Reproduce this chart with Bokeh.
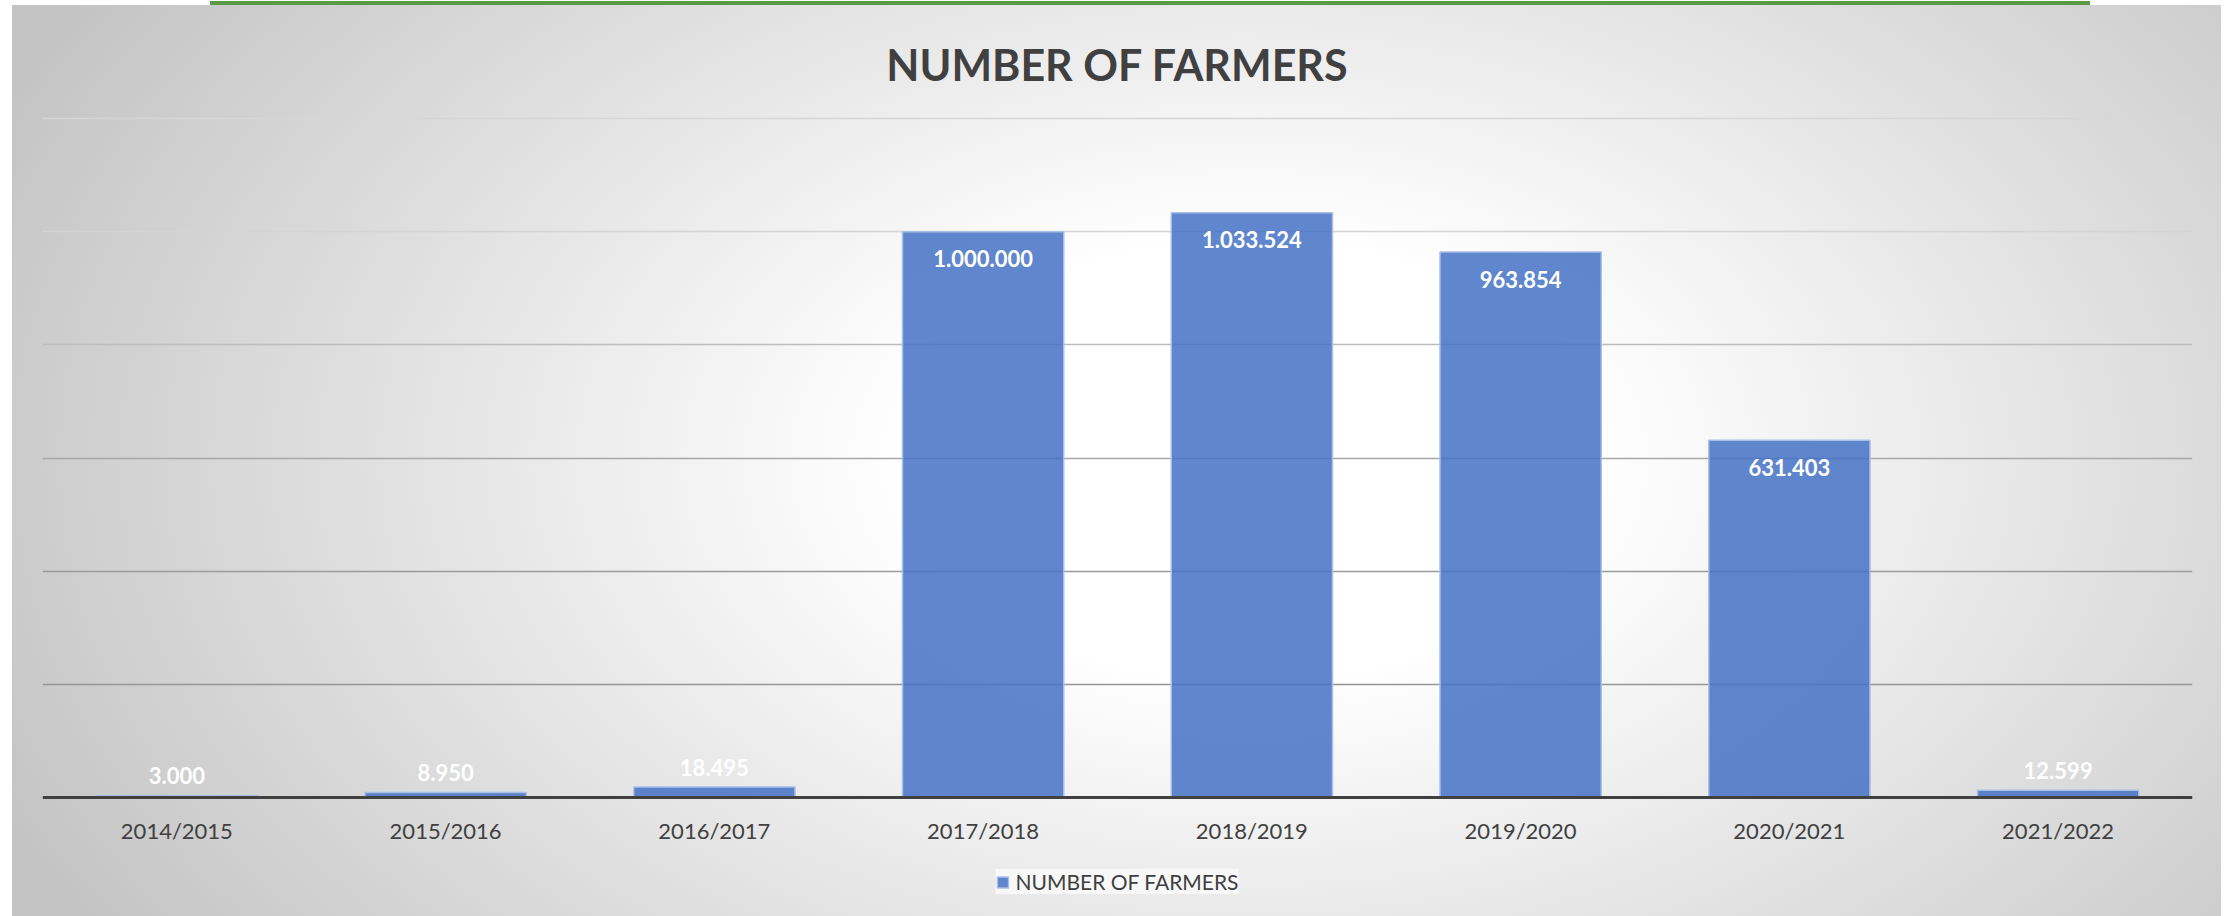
from bokeh.plotting import figure
from bokeh.models import ColumnDataSource, FactorRange, Range1d, Grid, FixedTicker, Legend, LegendItem
from bokeh.core.properties import value
from bokeh.embed import file_html
from bokeh.resources import INLINE

# ---- data ----
seasons = ["2014/2015", "2015/2016", "2016/2017", "2017/2018",
           "2018/2019", "2019/2020", "2020/2021", "2021/2022"]
farmers = [3000, 8950, 18495, 1000000, 1033524, 963854, 631403, 12599]
grid_values = [200000, 400000, 600000, 800000, 1000000, 1200000]
series_name = "NUMBER OF FARMERS"
chart_title = "NUMBER OF FARMERS"

# ---- styles ----
FONT = "Lato"
grid_colors = ["#969696", "#9b9b9b", "#a8a8a8", "#bdbdbd", "#d4d4d4", "#d6d6d6"]

def fmt(v):
    return f"{v:,}".replace(",", ".")

labels = [fmt(v) for v in farmers]
yoff = [27 if v > 100000 else -20 for v in farmers]

src = ColumnDataSource(dict(season=seasons, farmers=farmers, label=labels, yoff=yoff))

# layout: frame from y=115 to y=910 px; value 0 at 797 px, 1.2M at 118 px
W, H = 2226, 916
px_per_unit = (797 - 118) / 1200000
y_top = 1200000 + (118 - 115) / px_per_unit
y_bottom = -(910 - 797) / px_per_unit

p = figure(x_range=FactorRange(*seasons, range_padding=0),
           y_range=Range1d(y_bottom, y_top),
           width=W, height=H, output_backend="svg", toolbar_location=None,
           y_axis_location=None,
           min_border_left=42, min_border_right=34,
           min_border_top=115, min_border_bottom=6)

p.styles = {
    "background": "linear-gradient(#5b9a44, #5b9a44) 210px 1px / 1880px 4px no-repeat, "
                  "radial-gradient(62% 95% at 56% 50%, #ffffff 0%, #ffffff 25%, #c4c4c4 100%) 12px 5px / 2209px 911px no-repeat, "
                  "#ffffff"
}
p.border_fill_color = None
p.background_fill_color = None
p.outline_line_color = None

p.title.text = chart_title
p.title.align = "center"
p.title.text_font = FONT
p.title.text_font_style = "bold"
p.title.text_font_size = "43px"
p.title.text_color = "#404040"
p.title.standoff = 51

for g in p.xgrid:
    g.grid_line_color = None

for t, c in zip(grid_values, grid_colors):
    p.add_layout(Grid(dimension=1, ticker=FixedTicker(ticks=[t]),
                      grid_line_color=c, grid_line_width=1.6))

bars = p.vbar(x="season", top="farmers", width=0.6, source=src,
              fill_color="#4472c4", fill_alpha=0.85,
              line_color="#a8bfe8", line_width=1.5)

p.text(x="season", y="farmers", text="label", source=src, y_offset="yoff",
       text_font=value(FONT), text_font_style="bold", text_font_size="22px",
       text_color="white", text_align="center", text_baseline="middle")

ax = p.xaxis[0]
ax.fixed_location = 0
ax.axis_line_color = "#404040"
ax.axis_line_width = 3
ax.major_tick_line_color = None
ax.minor_tick_line_color = None
ax.major_label_text_font = FONT
ax.major_label_text_font_size = "22px"
ax.major_label_text_color = "#404040"
ax.major_label_standoff = 13

legend = Legend(items=[LegendItem(label=series_name, renderers=[bars])],
                location="bottom_center", orientation="horizontal",
                background_fill_color="#f8f8f8", background_fill_alpha=1.0,
                border_line_color=None,
                label_text_font=FONT, label_text_font_size="21px",
                label_text_color="#404040",
                glyph_width=14, glyph_height=14, label_standoff=6,
                padding=12, margin=16)
p.add_layout(legend, "center")

open("out.html", "w").write(file_html(p, INLINE))
